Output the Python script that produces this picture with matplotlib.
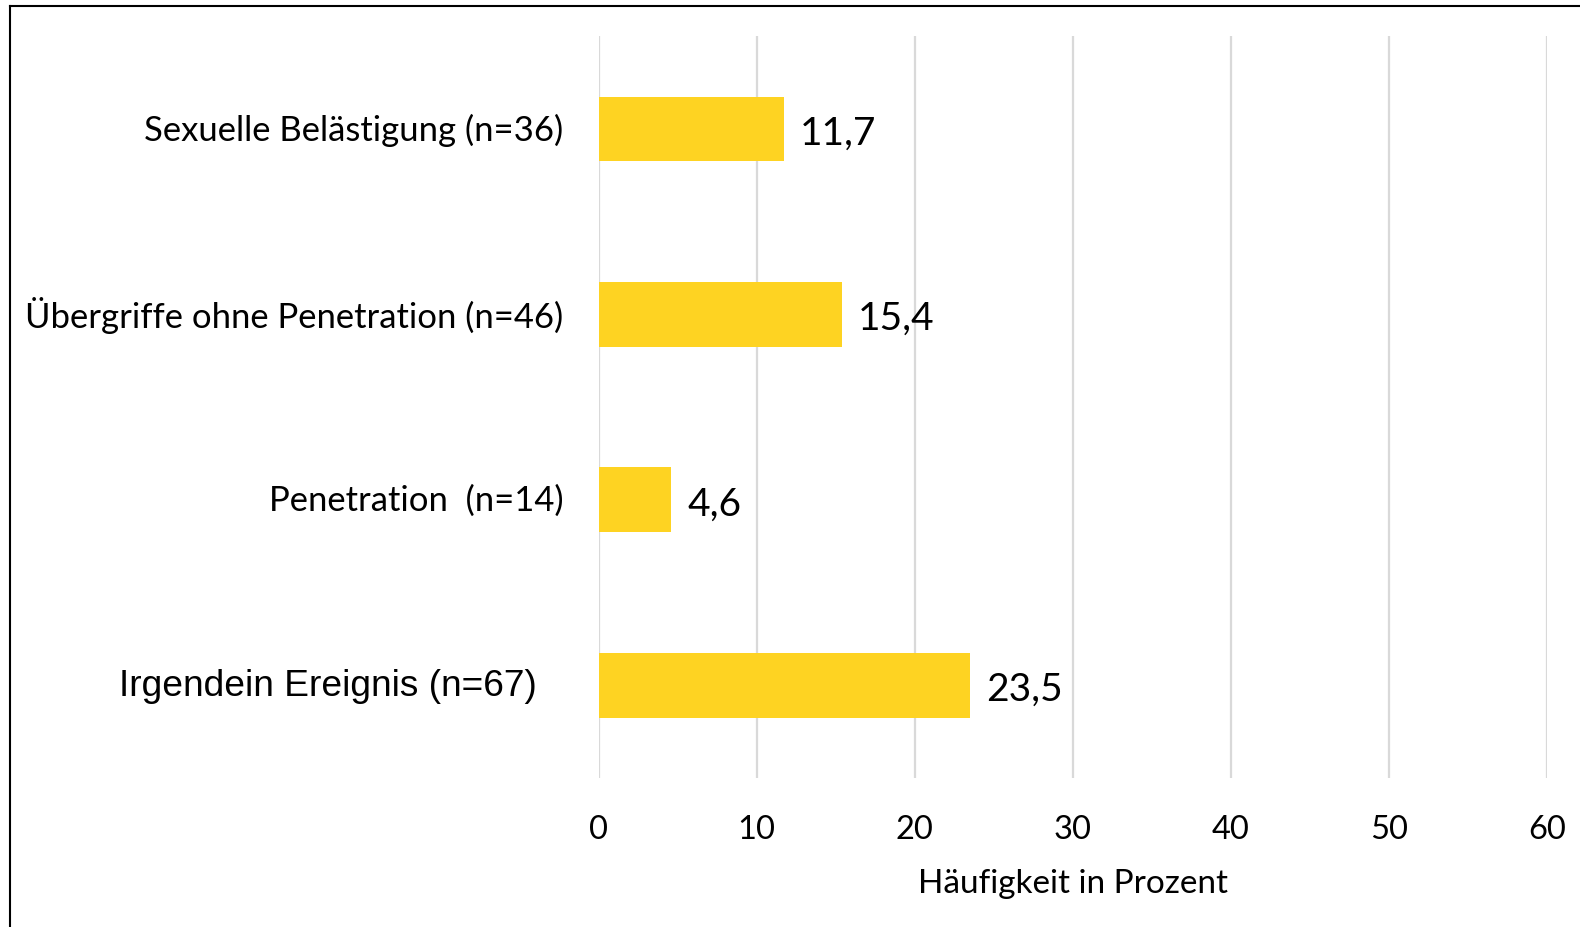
import matplotlib
matplotlib.use('Agg')
import matplotlib.pyplot as plt
from matplotlib.lines import Line2D

# Daten (von oben nach unten)
kategorien = ['Sexuelle Belästigung (n=36)',
              'Übergriffe ohne Penetration (n=46)',
              'Penetration  (n=14)',
              'Irgendein Ereignis (n=67)']
werte = [11.7, 15.4, 4.6, 23.5]
x_ticks = [0, 10, 20, 30, 40, 50, 60]

gelb = '#FED322'
font = ['Lato', 'DejaVu Sans']

fig = plt.figure(figsize=(15.8, 9.28), dpi=100)
ax = fig.add_axes([0.3789, 0.1606, 0.6001, 0.7992])

pos = list(range(len(kategorien)))
ax.barh(pos, werte, height=0.35, color=gelb, zorder=3)
ax.set_ylim(len(kategorien) - 0.5, -0.5)
ax.set_xlim(0, 60)

ax.set_xticks(x_ticks)
ax.set_xticklabels([str(t) for t in x_ticks], fontsize=23.5, family=font)
ax.tick_params(axis='x', length=0, pad=26)
ax.set_yticks([])
ax.grid(axis='x', color='#d9d9d9', linewidth=1.6, zorder=0)
for s in ax.spines.values():
    s.set_visible(False)

ax.set_xlabel('Häufigkeit in Prozent', fontsize=24, family=font, labelpad=17)

# Kategorie-Beschriftungen
ytrans = ax.get_yaxis_transform()
for i, lab in enumerate(kategorien):
    if i == len(kategorien) - 1:
        ax.text(-0.065, i, lab, transform=ytrans, ha='right', va='center',
                fontsize=26.7, family=['Liberation Sans', 'DejaVu Sans'])
    else:
        ax.text(-0.037, i, lab, transform=ytrans, ha='right', va='center',
                fontsize=24.9, family=font)

# Werte an den Balken
for i, v in enumerate(werte):
    ax.text(v + 1.0, i + 0.02, ('%.1f' % v).replace('.', ','), ha='left', va='center',
            fontsize=28, family=font, zorder=4)

# Rahmen links und oben
fx = 10 / 1580
fy = 1 - 7 / 928
fig.add_artist(Line2D([fx, fx], [0, fy], color='black', linewidth=1.5, transform=fig.transFigure))
fig.add_artist(Line2D([fx, 1], [fy, fy], color='black', linewidth=1.5, transform=fig.transFigure))

fig.savefig('out.png', dpi=100, facecolor='white')
